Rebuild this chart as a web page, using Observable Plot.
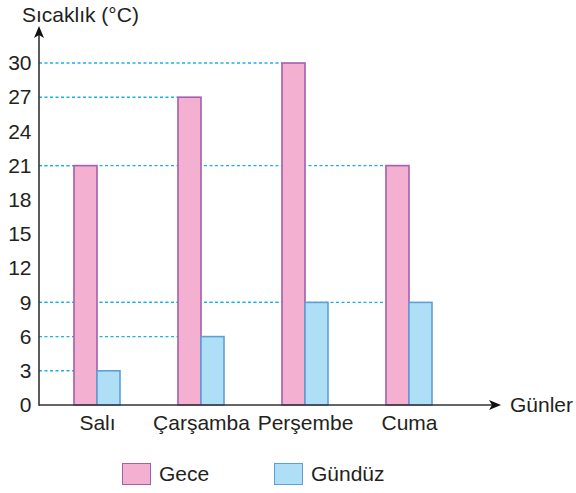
<!DOCTYPE html>
<html>
<head>
<meta charset="utf-8">
<script src="https://cdn.jsdelivr.net/npm/d3@7"></script>
<script src="https://cdn.jsdelivr.net/npm/@observablehq/plot@0.6"></script>
<style>
  body { margin: 0; background: #fff; font-family: "Liberation Sans", Arial, sans-serif; }
  #chart { width: 576px; }
  .legend { position: relative; width: 576px; height: 48px; font-size: 21px; color: #231f20; }
  .sw { position: absolute; top: 18px; width: 27px; height: 20px; border: 1.5px solid; }
  .lab { position: absolute; top: 17px; line-height: 24px; }
</style>
</head>
<body>
<div id="chart"></div>
<div class="legend" id="legend"></div>
<script>
// ---- data ----
const days = ["Salı", "Çarşamba", "Perşembe", "Cuma"];
const gece = [21, 27, 30, 21];
const gunduz = [3, 6, 9, 9];
const seriesNames = ["Gece", "Gündüz"];
const yTicks = [0, 3, 6, 9, 12, 15, 18, 21, 24, 27, 30];
const yTitle = "Sıcaklık (°C)";
const xTitle = "Günler";

// ---- styles ----
const fills = ["#f4b0d1", "#afdff6"];
const strokes = ["#a35fb0", "#5e9ed9"];
const guideColor = "#19b1ea";
const axisColor = "#333333";
const textColor = "#231f20";

const rows = days.flatMap((d, i) => [
  {day: d, series: seriesNames[0], value: gece[i]},
  {day: d, series: seriesNames[1], value: gunduz[i]}
]);

// layout
const W = 576, H = 445;
const mL = 39, mR = 110, mT = 63, mB = 40;
const pIn = 0.559, pOut = 0.3265;
const step = (W - mL - mR) / (days.length - pIn + 2 * pOut);
const half = step * (1 - pIn) / 2;

function bw(x) { return typeof x.bandwidth === "function" ? x.bandwidth() : x.bandwidth; }

function guides(index, scales, values, dims) {
  const {x, y} = scales;
  const g = d3.create("svg:g");
  for (const r of rows) {
    const xe = x(r.day) + (r.series === seriesNames[1] ? bw(x) / 2 : 0);
    g.append("line")
      .attr("x1", dims.marginLeft).attr("x2", xe)
      .attr("y1", y(r.value)).attr("y2", y(r.value))
      .attr("stroke", guideColor).attr("stroke-width", 1.4)
      .attr("stroke-dasharray", "3,2.5");
  }
  return g.node();
}

function axes(index, scales, values, dims) {
  const {y} = scales;
  const g = d3.create("svg:g");
  const x0 = dims.marginLeft, y0 = y(0);
  const topTip = 26, rightTip = 501;
  g.append("line").attr("x1", x0).attr("x2", x0).attr("y1", y0 + 0.75).attr("y2", topTip + 8)
    .attr("stroke", axisColor).attr("stroke-width", 1.6);
  g.append("path")
    .attr("d", `M${x0},${topTip}L${x0 + 5},${topTip + 12}L${x0},${topTip + 9}L${x0 - 5},${topTip + 12}Z`)
    .attr("fill", "#111");
  g.append("line").attr("x1", x0).attr("x2", rightTip - 8).attr("y1", y0).attr("y2", y0)
    .attr("stroke", axisColor).attr("stroke-width", 1.6);
  g.append("path")
    .attr("d", `M${rightTip},${y0}L${rightTip - 12},${y0 - 5}L${rightTip - 9},${y0}L${rightTip - 12},${y0 + 5}Z`)
    .attr("fill", "#111");
  g.append("text").attr("x", rightTip + 9).attr("y", y0).attr("dy", "0.35em")
    .attr("text-anchor", "start").attr("fill", textColor).text(xTitle);
  g.append("text").attr("x", 22).attr("y", 22)
    .attr("text-anchor", "start").attr("fill", textColor).text(yTitle);
  return g.node();
}

const plot = Plot.plot({
  width: W, height: H,
  marginLeft: mL, marginRight: mR, marginTop: mT, marginBottom: mB,
  style: {fontFamily: "'Liberation Sans', Arial, sans-serif", fontSize: "21px", color: textColor, background: "#fff"},
  x: {domain: days, paddingInner: pIn, paddingOuter: pOut, label: null},
  y: {domain: [0, 30], label: null},
  marks: [
    guides,
    Plot.barY(rows.filter(r => r.series === seriesNames[0]), {
      x: "day", y: "value", fill: fills[0], stroke: strokes[0], strokeWidth: 1.6, insetRight: half
    }),
    Plot.barY(rows.filter(r => r.series === seriesNames[1]), {
      x: "day", y: "value", fill: fills[1], stroke: strokes[1], strokeWidth: 1.6, insetLeft: half
    }),
    Plot.axisY({ticks: yTicks, tickSize: 0, tickPadding: 8, tickFormat: d => String(d), label: null}),
    Plot.axisX({tickSize: 0, tickPadding: 10, label: null}),
    axes
  ]
});
document.getElementById("chart").appendChild(plot);

// legend
const leg = d3.select("#legend");
const legX = [122, 274];
seriesNames.forEach((s, i) => {
  leg.append("div").attr("class", "sw")
    .style("left", legX[i] + "px").style("background", fills[i]).style("border-color", strokes[i]);
  leg.append("div").attr("class", "lab").style("left", (legX[i] + 37) + "px").text(s);
});
</script>
</body>
</html>
